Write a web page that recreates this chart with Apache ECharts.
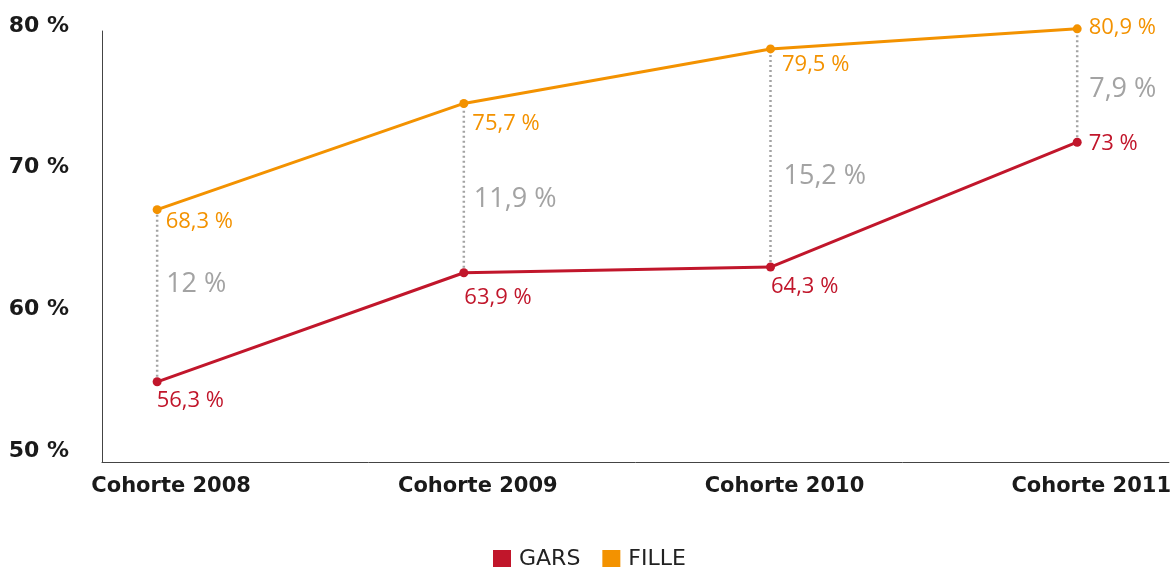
<!DOCTYPE html>
<html>
<head>
<meta charset="utf-8">
<script src="https://cdn.jsdelivr.net/npm/echarts@6/dist/echarts.min.js"></script>
<style>
html,body{margin:0;padding:0;background:#fff;}
#chart{width:1174px;height:567px;}
</style>
</head>
<body>
<div id="chart"></div>
<script>
// ---- data ----
const categories = ['Cohorte 2008', 'Cohorte 2009', 'Cohorte 2010', 'Cohorte 2011'];
const gars = [56.3, 63.9, 64.3, 73];
const fille = [68.3, 75.7, 79.5, 80.9];
const ecart = [12, 11.9, 15.2, 7.9];
const yTickLabels = [50, 60, 70, 80];

// ---- layout / style (not data) ----
const RED = '#c1162b';
const ORANGE = '#f39200';
const GREY = '#a3a3a3';
const garsLabelOffset = [[-10, 19], [-9, 25], [-9, 20], [2, 2]];
const filleLabelOffset = [[-1, 12], [-1, 20], [2, 16], [2, -1]];
const ecartNudge = [[9, -11], [10, 11], [13, 18], [12, 4]];

const fmt = v => String(v).replace('.', ',') + ' %';

const chart = echarts.init(document.getElementById('chart'), null, {renderer: 'canvas'});

function lineData(values, offsets) {
  return values.map((v, i) => ({
    value: [i, v],
    label: {offset: offsets[i]}
  }));
}

const option = {
  animation: false,
  backgroundColor: '#fff',
  grid: {left: 102, right: 2, top: 31, bottom: 105, containLabel: false},
  legend: {
    data: ['GARS', 'FILLE'],
    icon: 'rect',
    itemWidth: 18,
    itemHeight: 18,
    itemGap: 22,
    left: 493,
    top: 548,
    padding: 0,
    itemStyle: {borderWidth: 0},
    textStyle: {fontFamily: 'DejaVu Sans', fontSize: 22, lineHeight: 20, color: '#222', padding: [0, 0, 0, 3]}
  },
  xAxis: {
    type: 'value',
    min: -0.1798,
    max: 3.299,
    axisLine: {show: true, onZero: false, lineStyle: {color: '#444', width: 1}},
    axisTick: {show: false},
    splitLine: {show: false},
    axisLabel: {
      customValues: [0, 1, 2, 3],
      formatter: v => categories[Math.round(v)],
      fontFamily: 'DejaVu Sans',
      fontWeight: 'bold',
      fontSize: 21,
      color: '#1a1a1a',
      margin: 14,
      padding: [0, 0, 0, 28]
    }
  },
  yAxis: [
    {
      type: 'value',
      min: 49.576,
      max: 80,
      position: 'left',
      axisLine: {show: true, onZero: false, lineStyle: {color: '#444', width: 1}},
      axisTick: {show: false},
      splitLine: {show: false},
      axisLabel: {
        customValues: yTickLabels,
        formatter: v => v + ' %',
        fontFamily: 'DejaVu Sans',
        fontWeight: 'bold',
        fontSize: 22,
        color: '#1a1a1a',
        margin: 33,
        verticalAlign: 'bottom',
        lineHeight: 10
      }
    },
    {
      type: 'value',
      min: 50.71,
      max: 80.75,
      show: false,
      axisLine: {onZero: false}
    }
  ],
  series: [
    {
      type: 'custom',
      name: 'ecart',
      yAxisIndex: 1,
      z: 1,
      clip: false,
      encode: {x: 0, y: [1, 2]},
      data: categories.map((c, i) => [i, gars[i], fille[i]]),
      renderItem: function (params, api) {
        const i = params.dataIndex;
        const x = api.value(0);
        const p1 = api.coord([x, api.value(1)]);
        const p2 = api.coord([x, api.value(2)]);
        return {
          type: 'group',
          children: [
            {
              type: 'line',
              shape: {x1: p1[0], y1: p1[1], x2: p2[0], y2: p2[1]},
              style: {stroke: GREY, lineWidth: 2.5, lineDash: [2, 3]}
            },
            {
              type: 'text',
              x: p1[0] + ecartNudge[i][0],
              y: (p1[1] + p2[1]) / 2 + ecartNudge[i][1],
              style: {
                text: fmt(ecart[i]),
                fill: '#a3a3a3',
                fontFamily: 'Open Sans',
                fontSize: 27,
                align: 'left',
                verticalAlign: 'middle'
              }
            }
          ]
        };
      }
    },
    {
      type: 'line',
      name: 'GARS',
      yAxisIndex: 1,
      z: 3,
      clip: false,
      data: lineData(gars, garsLabelOffset),
      symbol: 'circle',
      symbolSize: 9,
      itemStyle: {color: RED},
      lineStyle: {color: RED, width: 3},
      label: {
        show: true,
        position: 'right',
        distance: 5,
        formatter: p => fmt(p.value[1]),
        color: RED,
        fontFamily: 'Open Sans',
        fontSize: 22
      }
    },
    {
      type: 'line',
      name: 'FILLE',
      yAxisIndex: 1,
      z: 3,
      clip: false,
      data: lineData(fille, filleLabelOffset),
      symbol: 'circle',
      symbolSize: 9,
      itemStyle: {color: ORANGE},
      lineStyle: {color: ORANGE, width: 3},
      label: {
        show: true,
        position: 'right',
        distance: 5,
        formatter: p => fmt(p.value[1]),
        color: ORANGE,
        fontFamily: 'Open Sans',
        fontSize: 22
      }
    }
  ]
};

chart.setOption(option);
</script>
</body>
</html>
